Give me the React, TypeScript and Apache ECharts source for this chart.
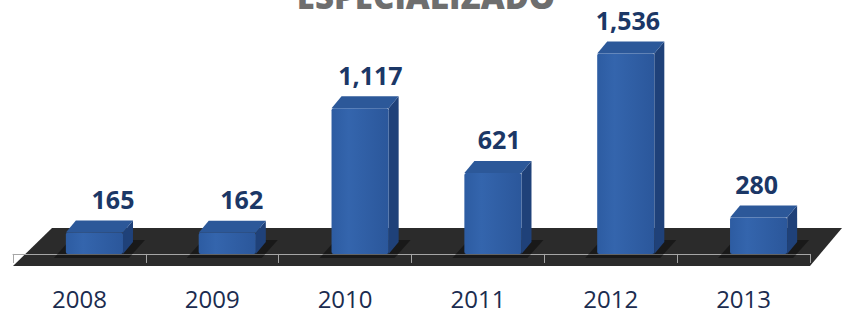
import React, { useEffect, useRef } from "react";
import * as echarts from "echarts";

const categories = ["2008", "2009", "2010", "2011", "2012", "2013"];
const values = [165, 162, 1117, 621, 1536, 280];
const titleText = "ESPECIALIZADO";

export default function App() {
  const ref = useRef<HTMLDivElement>(null);
  useEffect(() => {
    document.body.style.margin = "0";
    const chart = echarts.init(ref.current!, null, { renderer: "svg" });
    const dx = 10;
    const dy = -12;
    const option: any = {
      animation: false,
      backgroundColor: "#ffffff",
      grid: { left: 13, right: 32, top: 19, bottom: 47 },
      xAxis: {
        type: "category",
        data: categories,
        axisLine: { show: true, lineStyle: { color: "#a6a6a6", width: 1 } },
        axisTick: { show: true, length: 9, lineStyle: { color: "#a6a6a6" } },
        axisLabel: {
          margin: 18,
          color: "#1b2c4f",
          fontSize: 24,
          lineHeight: 26,
          fontFamily: "Open Sans",
        },
      },
      yAxis: {
        type: "value",
        min: -100,
        max: 1800,
        show: false,
        splitLine: { show: false },
      },
      graphic: [
        {
          type: "polygon",
          z: 0,
          shape: {
            points: [
              [13, 266],
              [52, 228],
              [842, 228],
              [810, 266],
            ],
          },
          style: { fill: "#2b2b2b" },
        },
        {
          type: "text",
          z: 10,
          x: 426,
          y: 13,
          style: {
            text: titleText,
            font: '800 33px "Open Sans"',
            fill: "#6e6e6e",
            textAlign: "center",
            textVerticalAlign: "bottom",
          },
        },
      ],
      series: [
        {
          type: "custom",
          data: values.map((v, i) => [i, v]),
          encode: { x: 0, y: 1 },
          renderItem: (params: any, api: any) => {
            const idx = api.value(0);
            const val = api.value(1);
            const top = api.coord([idx, val]);
            const base = api.coord([idx, 0]);
            const band = api.size([1, 0])[0];
            const w = band * 0.43;
            const cx = top[0] + band * 0.113;
            const x0 = cx - w / 2;
            const x1 = cx + w / 2;
            const yT = top[1];
            const yB = base[1];
            const labelX = top[0] + 33.6 - 4.1 * idx;
            return {
              type: "group",
              children: [
                {
                  type: "polygon",
                  shape: {
                    points: [
                      [x0 - 12, yB + 4],
                      [x1 + 6, yB + 4],
                      [x1 + dx + 12, yB + dy - 2],
                      [x0 + dx - 6, yB + dy - 2],
                    ],
                  },
                  style: { fill: "rgba(0,0,0,0.4)" },
                },
                {
                  type: "polygon",
                  shape: {
                    points: [
                      [x1, yT],
                      [x1 + dx, yT + dy],
                      [x1 + dx, yB + dy],
                      [x1, yB],
                    ],
                  },
                  style: { fill: "#1f4179" },
                },
                {
                  type: "polygon",
                  shape: {
                    points: [
                      [x0, yT],
                      [x0 + dx, yT + dy],
                      [x1 + dx, yT + dy],
                      [x1, yT],
                    ],
                  },
                  style: { fill: "#2c5899" },
                },
                {
                  type: "rect",
                  shape: { x: x0, y: yT, width: w, height: yB - yT, r: 2 },
                  style: {
                    fill: new echarts.graphic.LinearGradient(0, 0, 1, 0, [
                      { offset: 0, color: "#2d5ca2" },
                      { offset: 0.3, color: "#3465ad" },
                      { offset: 1, color: "#2b579b" },
                    ]),
                  },
                },
                {
                  type: "text",
                  x: labelX,
                  y: yT + dy - 9,
                  style: {
                    text: Number(val).toLocaleString("en-US"),
                    font: 'bold 25px "Open Sans"',
                    fill: "#1b3766",
                    textAlign: "center",
                    textVerticalAlign: "bottom",
                  },
                },
              ],
            };
          },
        },
      ],
    };
    chart.setOption(option);
    return () => chart.dispose();
  }, []);
  return <div ref={ref} style={{ width: 842, height: 314 }} />;
}
